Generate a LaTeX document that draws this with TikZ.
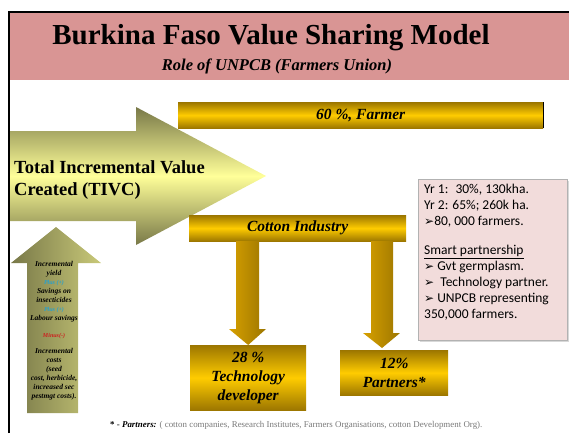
\documentclass[tikz,border=0pt]{standalone}
\usepackage{fontspec}
\setmainfont{Liberation Serif}
\newfontfamily\calibfont{Carlito}
\newfontfamily\symfont{DejaVu Sans}
\usetikzlibrary{positioning, calc, shadows}

\definecolor{titlepink}{RGB}{217,149,148}
\definecolor{boxpink}{RGB}{242,220,219}
\definecolor{golddark}{RGB}{156,118,0}
\definecolor{goldlight}{RGB}{255,204,0}
\definecolor{goldmid}{RGB}{215,160,0}
\definecolor{olivedark}{RGB}{120,120,72}
\definecolor{paleyellow}{RGB}{255,255,153}
\definecolor{plusblue}{RGB}{40,160,205}
\definecolor{minusred}{RGB}{205,30,30}
\definecolor{notegray}{RGB}{120,120,120}

\newcommand{\tick}{{\symfont\fontsize{12}{16}\selectfont\char"27A2}}

\begin{document}
\begin{tikzpicture}[x=1pt, y=-1pt,
    goldbar/.style={top color=golddark, bottom color=golddark, middle color=goldlight, inner sep=0pt, align=center, font=\bfseries\itshape\fontsize{15.5}{19}\selectfont},
    goldarrow/.style={left color=goldmid, right color=golddark},
    infobox/.style={fill=boxpink, draw=gray!60, drop shadow={shadow xshift=2pt, shadow yshift=-2pt, fill=gray!60}, inner sep=0pt}]
    \useasboundingbox (0,0) rectangle (569,433);
    % title band
    \fill[titlepink] (9,12) rectangle (569,80);
    \draw[line width=1.5pt] (9,433) -- (9,12) -- (569,12);
    \node[anchor=base, font=\bfseries\fontsize{29}{34}\selectfont] (title) at (271,45) {Burkina Faso Value Sharing Model};
    \node[anchor=base, font=\bfseries\itshape\fontsize{16.5}{20}\selectfont] (subtitle) at (277,71) {Role of UNPCB (Farmers Union)};
    % big arrow
    \path[top color=olivedark, bottom color=olivedark, middle color=paleyellow] (10,131) -- (136,131) -- (136,107) -- (266,176) -- (136,245) -- (136,221) -- (10,221) -- cycle;
    \node[anchor=west, align=left, inner sep=0pt, font=\bfseries\fontsize{18.5}{22}\selectfont] (tivc) at (14,180) {Total Incremental Value\\Created (TIVC)};
    % shares
    \node[goldbar, minimum width=365pt, minimum height=26pt, anchor=north west] (farmer) at (178,102) {60 \%, Farmer};
    \draw[line width=1pt] (farmer.north east) -- (farmer.south east);
    \node[goldbar, minimum width=217pt, minimum height=26pt, anchor=north west] (cotton) at (189,215) {Cotton Industry};
    \node[goldbar, minimum width=116pt, minimum height=65pt, anchor=north west] (tech) at (190,345) {28 \%\\Technology\\developer};
    \node[goldbar, minimum width=108pt, minimum height=45pt, anchor=north west] (partners) at (340,350) {12\%\\Partners*};
    \path[goldarrow] (236,241) -- (259,241) -- (259,329) -- (266,329) -- (tech.north) -- (229,329) -- (236,329) -- cycle;
    \coordinate (ptip) at (382,348);
    \path[goldarrow] (371,241) -- (393,241) -- (393,333) -- (400,333) -- (ptip) -- (363,333) -- (371,333) -- cycle;
    % up arrow
    \path[left color=olivedark, middle color=paleyellow, right color=olivedark!40!paleyellow] (27,413) -- (27,263) -- (11,263) -- (56,227) -- (101,263) -- (78,263) -- (78,413) -- cycle;
    \node[anchor=north, align=center, inner sep=0pt, font=\bfseries\itshape\fontsize{7.5}{9}\selectfont] (gains) at (54,261) {Incremental\\yield\\{\color{plusblue}\fontsize{6}{9}\selectfont Plus (+)}\\Savings on\\insecticides\\{\color{plusblue}\fontsize{6}{9}\selectfont Plus (+)}\\Labour savings\\[8pt]{\color{minusred}\fontsize{6}{9}\selectfont Minus(-)}\\[7pt]Incremental\\costs\\(seed\\cost, herbicide,\\increased sec\\pestmgt costs).};
    % info box
    \node[infobox, minimum width=149pt, minimum height=161pt, anchor=north west] (info) at (418,179) {};
    \node[anchor=north west, align=left, inner sep=0pt, font=\calibfont\fontsize{13.5}{16}\selectfont] (infotext) at ($(info.north west)+(6,5)$) {Yr 1:~ 30\%, 130kha.\\Yr 2: 65\%; 260k ha.\\\tick80, 000 farmers.\\[13pt]\underline{Smart partnership}\\\tick{} Gvt germplasm.\\\tick{}~ Technology partner.\\\tick{} UNPCB representing\\350,000 farmers.};
    % footnote
    \node[anchor=base west, inner sep=0pt, font=\fontsize{8.9}{11}\selectfont] (note) at (110,427) {\textbf{*} - \textbf{\textit{Partners:}} {\color{notegray}( cotton companies, Research Institutes, Farmers Organisations, cotton Development Org).}};
\end{tikzpicture}
\end{document}
